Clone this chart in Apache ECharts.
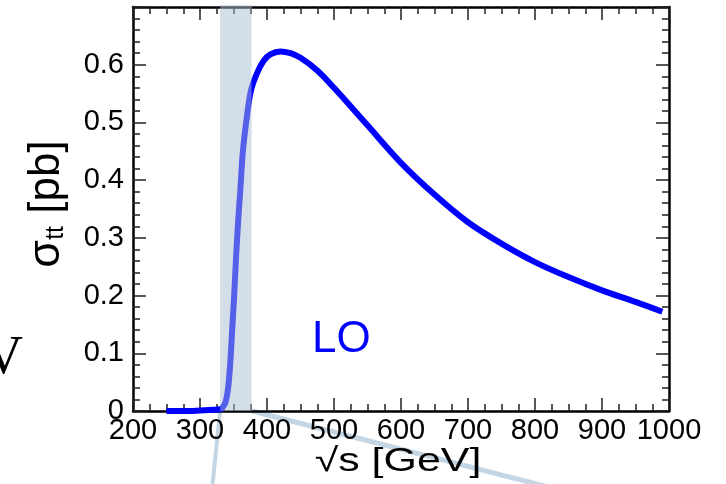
<!DOCTYPE html>
<html><head><meta charset="utf-8">
<script src="https://cdn.jsdelivr.net/npm/echarts@6/dist/echarts.min.js"></script>
<style>html,body{margin:0;padding:0;background:#fff}#c{width:726px;height:484px}</style>
</head><body><div id="c"></div>
<script>
// sqrt(s) in GeV
const energies = [250, 280, 300, 320, 330, 333, 338, 342, 345, 348, 351, 354, 357, 360, 364, 370, 376, 385, 395, 405, 420, 435, 450, 475, 500, 550, 600, 650, 700, 750, 800, 850, 900, 950, 990];
// LO cross section in pb
const sigmaLO = [0.000, 0.000, 0.001, 0.002, 0.003, 0.005, 0.015, 0.040, 0.080, 0.140, 0.200, 0.270, 0.330, 0.380, 0.450, 0.510, 0.555, 0.585, 0.607, 0.618, 0.623, 0.620, 0.612, 0.590, 0.560, 0.495, 0.430, 0.375, 0.327, 0.290, 0.258, 0.232, 0.209, 0.189, 0.172];
const xTickLabels = ['200','300','400','500','600','700','800','900','1000'];
const yTickLabels = ['0','0.1','0.2','0.3','0.4','0.5','0.6'];
const bandRange = [330, 377];
const xMin = 200, xMax = 1000, yMin = 0, yMax = 0.7;

const FONT = 'Liberation Sans, Arial, Helvetica, sans-serif';
const chart = echarts.init(document.getElementById('c'), null, {renderer: 'canvas'});

const tickStyle = {show: true, inside: true, length: 13, lineStyle: {color: '#222', width: 1.5}};
const minorStyle = (n) => ({show: true, splitNumber: n, length: 7, lineStyle: {color: '#222', width: 1.5}});
const axisLine = {show: true, onZero: false, lineStyle: {color: '#000', width: 2.5}};

chart.setOption({
  animation: false,
  backgroundColor: '#fff',
  grid: {left: 133, right: 57, top: 7, bottom: 73, containLabel: false},
  xAxis: [{
    type: 'value', min: xMin, max: xMax, interval: 100, position: 'bottom',
    axisLine: axisLine, axisTick: tickStyle, minorTick: minorStyle(4),
    splitLine: {show: false},
    axisLabel: {
      show: true, margin: 5, color: '#000', fontSize: 29, fontFamily: FONT,
      formatter: (v) => { const i = Math.round((v - xMin) / 100); return xTickLabels[i] || ''; }
    }
  }, {
    type: 'value', min: xMin, max: xMax, interval: 100, position: 'top',
    axisLine: axisLine, axisTick: tickStyle, minorTick: minorStyle(4),
    splitLine: {show: false}, axisLabel: {show: false}
  }],
  yAxis: [{
    type: 'value', min: yMin, max: yMax, interval: 0.1, position: 'left',
    axisLine: axisLine, axisTick: tickStyle, minorTick: minorStyle(5),
    splitLine: {show: false},
    axisLabel: {
      show: true, margin: 9, color: '#000', fontSize: 29, fontFamily: FONT,
      formatter: (v) => { const i = Math.round(v * 10); return yTickLabels[i] || ''; }
    },
    name: '{s|σ}{b|tt}{n| [pb]}',
    nameLocation: 'middle', nameRotate: 90, nameGap: 64,
    nameTextStyle: {
      color: '#000', fontFamily: FONT, padding: [0, 0, 0, 10],
      rich: {
        s: {fontSize: 45, fontFamily: FONT, color: '#000'},
        b: {fontSize: 25, fontFamily: FONT, color: '#000', verticalAlign: 'bottom', padding: [18, 0, 0, 0]},
        n: {fontSize: 44, fontFamily: FONT, color: '#000'}
      }
    }
  }, {
    type: 'value', min: yMin, max: yMax, interval: 0.1, position: 'right',
    axisLine: axisLine, axisTick: tickStyle, minorTick: minorStyle(5),
    splitLine: {show: false}, axisLabel: {show: false}
  }],
  series: [{
    type: 'line', name: 'LO', z: 2,
    data: energies.map((e, i) => [e, sigmaLO[i]]),
    showSymbol: false, smooth: 0.3,
    lineStyle: {color: '#0000ff', width: 6},
    clip: false
  }, {
    type: 'custom', z: 5, silent: true,
    encode: {x: [0, 1], y: [2, 3]},
    data: [[bandRange[0], bandRange[1], yMax, yMin]],
    renderItem: (params, api) => {
      const p0 = api.coord([api.value(0), api.value(2)]);
      const p1 = api.coord([api.value(1), api.value(3)]);
      return {type: 'rect', shape: {x: p0[0], y: p0[1] - 2, width: p1[0] - p0[0], height: p1[1] - p0[1] + 2},
              style: {fill: 'rgba(170,190,211,0.5)'}};
    }
  }],
  graphic: [
    {type: 'line', z: -1, shape: {x1: 220, y1: 412, x2: 212, y2: 490}, style: {stroke: 'rgb(196,214,228)', lineWidth: 4}},
    {type: 'line', z: -1, shape: {x1: 252, y1: 411, x2: 560, y2: 490}, style: {stroke: 'rgb(196,214,228)', lineWidth: 5}},
    {type: 'text', z: 10, x: 398, y: 445, scaleX: 1.3,
     style: {text: '√s [GeV]', font: '33px ' + FONT, fill: '#000', textAlign: 'center', textVerticalAlign: 'top'}},
    {type: 'text', z: 10, x: 312, y: 318,
     style: {text: 'LO', font: '44px ' + FONT, fill: '#0000ff', textAlign: 'left', textVerticalAlign: 'top'}},
    {type: 'text', z: 10, x: -16, y: 332,
     style: {text: 'V', font: '54px Liberation Serif, Times New Roman, serif', fill: '#000', textAlign: 'left', textVerticalAlign: 'top'}}
  ]
});
</script>
</body></html>
